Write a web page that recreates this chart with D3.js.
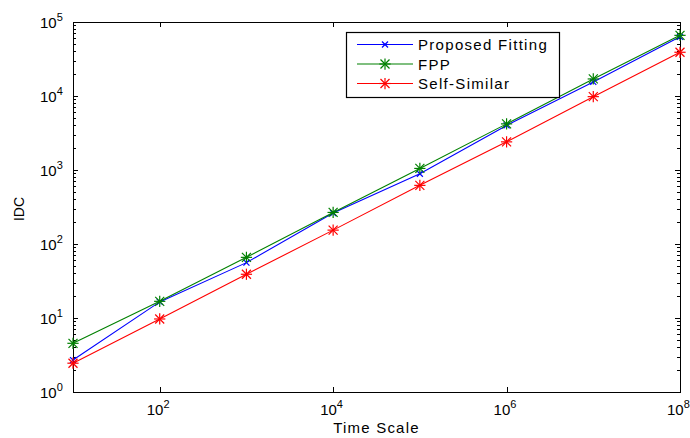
<!DOCTYPE html>
<html>
<head>
<meta charset="utf-8">
<script src="https://cdn.jsdelivr.net/npm/d3@7"></script>
<style>
  body { margin: 0; background: #fff; }
  text { font-family: Arial, "Liberation Sans", sans-serif; fill: #000; }
</style>
</head>
<body>
<svg width="690" height="438"></svg>
<script>
// time scales (x) and IDC values for each series
let timeScale = [1e1, 1e2, 1e3, 1e4, 1e5, 1e6, 1e7, 1e8];
let proposed = [2.7, 16.5, 56, 262, 890, 4000, 15500, 63000];
let fpp = [4.55, 16.8, 66, 267, 1050, 4200, 17000, 66000];
let selfSimilar = [2.45, 9.7, 39, 154, 620, 2400, 9800, 39000];
let seriesNames = ['Proposed Fitting', 'FPP', 'Self-Similar'];
let xTicks = [1e2, 1e4, 1e6, 1e8];
let yTicks = [1e0, 1e1, 1e2, 1e3, 1e4, 1e5];

let pLeft = 73, pTop = 22, pRight = 680, pBottom = 392;
let svg = d3.select('svg');

let xScale = d3.scaleLog().domain([1e1, 1e8]).range([pLeft, pRight]);
let yScale = d3.scaleLog().domain([1e0, 1e5]).range([pBottom, pTop]);

let series = [
  { name: seriesNames[0], values: proposed, color: '#0000ff', marker: 'x' },
  { name: seriesNames[1], values: fpp, color: '#008000', marker: 'star' },
  { name: seriesNames[2], values: selfSimilar, color: '#ff0000', marker: 'star' }
];

// minor y ticks
let minorY = [];
for (let d = 0; d < 5; d++) for (let k = 2; k <= 9; k++) minorY.push(k * Math.pow(10, d));

let axes = svg.append('g').attr('stroke', '#000').attr('stroke-width', 1).attr('shape-rendering', 'crispEdges');

// ticks on x (bottom and top)
xTicks.filter(t => t < 1e8).forEach(t => {
  let x = Math.round(xScale(t)) + 0.5;
  axes.append('line').attr('x1', x).attr('x2', x).attr('y1', pBottom).attr('y2', pBottom - 5);
  axes.append('line').attr('x1', x).attr('x2', x).attr('y1', pTop).attr('y2', pTop + 5);
});
// ticks on y (left and right)
yTicks.forEach(t => {
  let y = Math.round(yScale(t)) + 0.5;
  axes.append('line').attr('x1', pLeft).attr('x2', pLeft + 5).attr('y1', y).attr('y2', y);
  axes.append('line').attr('x1', pRight).attr('x2', pRight - 5).attr('y1', y).attr('y2', y);
});
minorY.forEach(t => {
  let y = Math.round(yScale(t)) + 0.5;
  axes.append('line').attr('x1', pLeft).attr('x2', pLeft + 3).attr('y1', y).attr('y2', y);
  axes.append('line').attr('x1', pRight).attr('x2', pRight - 3).attr('y1', y).attr('y2', y);
});

axes.append('rect')
  .attr('x', pLeft + 0.5).attr('y', pTop + 0.5)
  .attr('width', pRight - pLeft).attr('height', pBottom - pTop)
  .attr('fill', 'none').attr('stroke-width', 1.5);

// tick labels
xTicks.forEach(t => {
  let g = svg.append('text').attr('x', xScale(t) - 13).attr('y', pBottom + 23).style('font-size', '15px');
  g.append('tspan').text('10');
  g.append('tspan').attr('dy', -7).style('font-size', '11px').text(Math.round(Math.log10(t)));
});
yTicks.forEach(t => {
  let g = svg.append('text').attr('x', pLeft - 33).attr('y', yScale(t) + 6).style('font-size', '15px');
  g.append('tspan').text('10');
  g.append('tspan').attr('dy', -7).style('font-size', '11px').text(Math.round(Math.log10(t)));
});

svg.append('text')
  .attr('x', (pLeft + pRight) / 2).attr('y', 433)
  .style('font-size', '15px').style('text-anchor', 'middle').style('letter-spacing', '1.2px')
  .text('Time Scale');

svg.append('text')
  .attr('transform', 'rotate(-90)')
  .attr('x', -209).attr('y', 24)
  .style('font-size', '14px').style('text-anchor', 'middle')
  .text('IDC');

function drawMarker(g, type, x, y, color) {
  let s = type === 'x' ? 3 : 4.5;
  let m = g.append('g').attr('transform', `translate(${x},${y})`)
    .attr('stroke', color).attr('stroke-width', 1.2);
  m.append('line').attr('x1', -s).attr('x2', s).attr('y1', -s).attr('y2', s);
  m.append('line').attr('x1', -s).attr('x2', s).attr('y1', s).attr('y2', -s);
  if (type === 'star') {
    let r = s * 1.25;
    m.append('line').attr('x1', -r).attr('x2', r).attr('y1', 0).attr('y2', 0);
    m.append('line').attr('x1', 0).attr('x2', 0).attr('y1', -r).attr('y2', r);
  }
}

let line = d3.line().x((d, i) => xScale(timeScale[i])).y(d => yScale(d));

series.forEach(s => {
  let g = svg.append('g');
  g.append('path').datum(s.values)
    .attr('d', line).attr('fill', 'none')
    .attr('stroke', s.color).attr('stroke-width', 1.1);
  s.values.forEach((v, i) => drawMarker(g, s.marker, xScale(timeScale[i]), yScale(v), s.color));
});

// legend
let lg = svg.append('g');
lg.append('rect').attr('x', 346.5).attr('y', 32.5).attr('width', 213).attr('height', 65)
  .attr('fill', '#fff').attr('stroke', '#000').attr('stroke-width', 1.2);
series.forEach((s, i) => {
  let y = 44.5 + i * 19.5;
  lg.append('line').attr('x1', 357).attr('x2', 413).attr('y1', y).attr('y2', y)
    .attr('stroke', s.color).attr('stroke-width', 1.1);
  drawMarker(lg, s.marker, 385, y, s.color);
  lg.append('text').attr('x', 418).attr('y', y + 5.5)
    .style('font-size', '15px').style('letter-spacing', '1.3px')
    .text(s.name);
});
</script>
</body>
</html>
